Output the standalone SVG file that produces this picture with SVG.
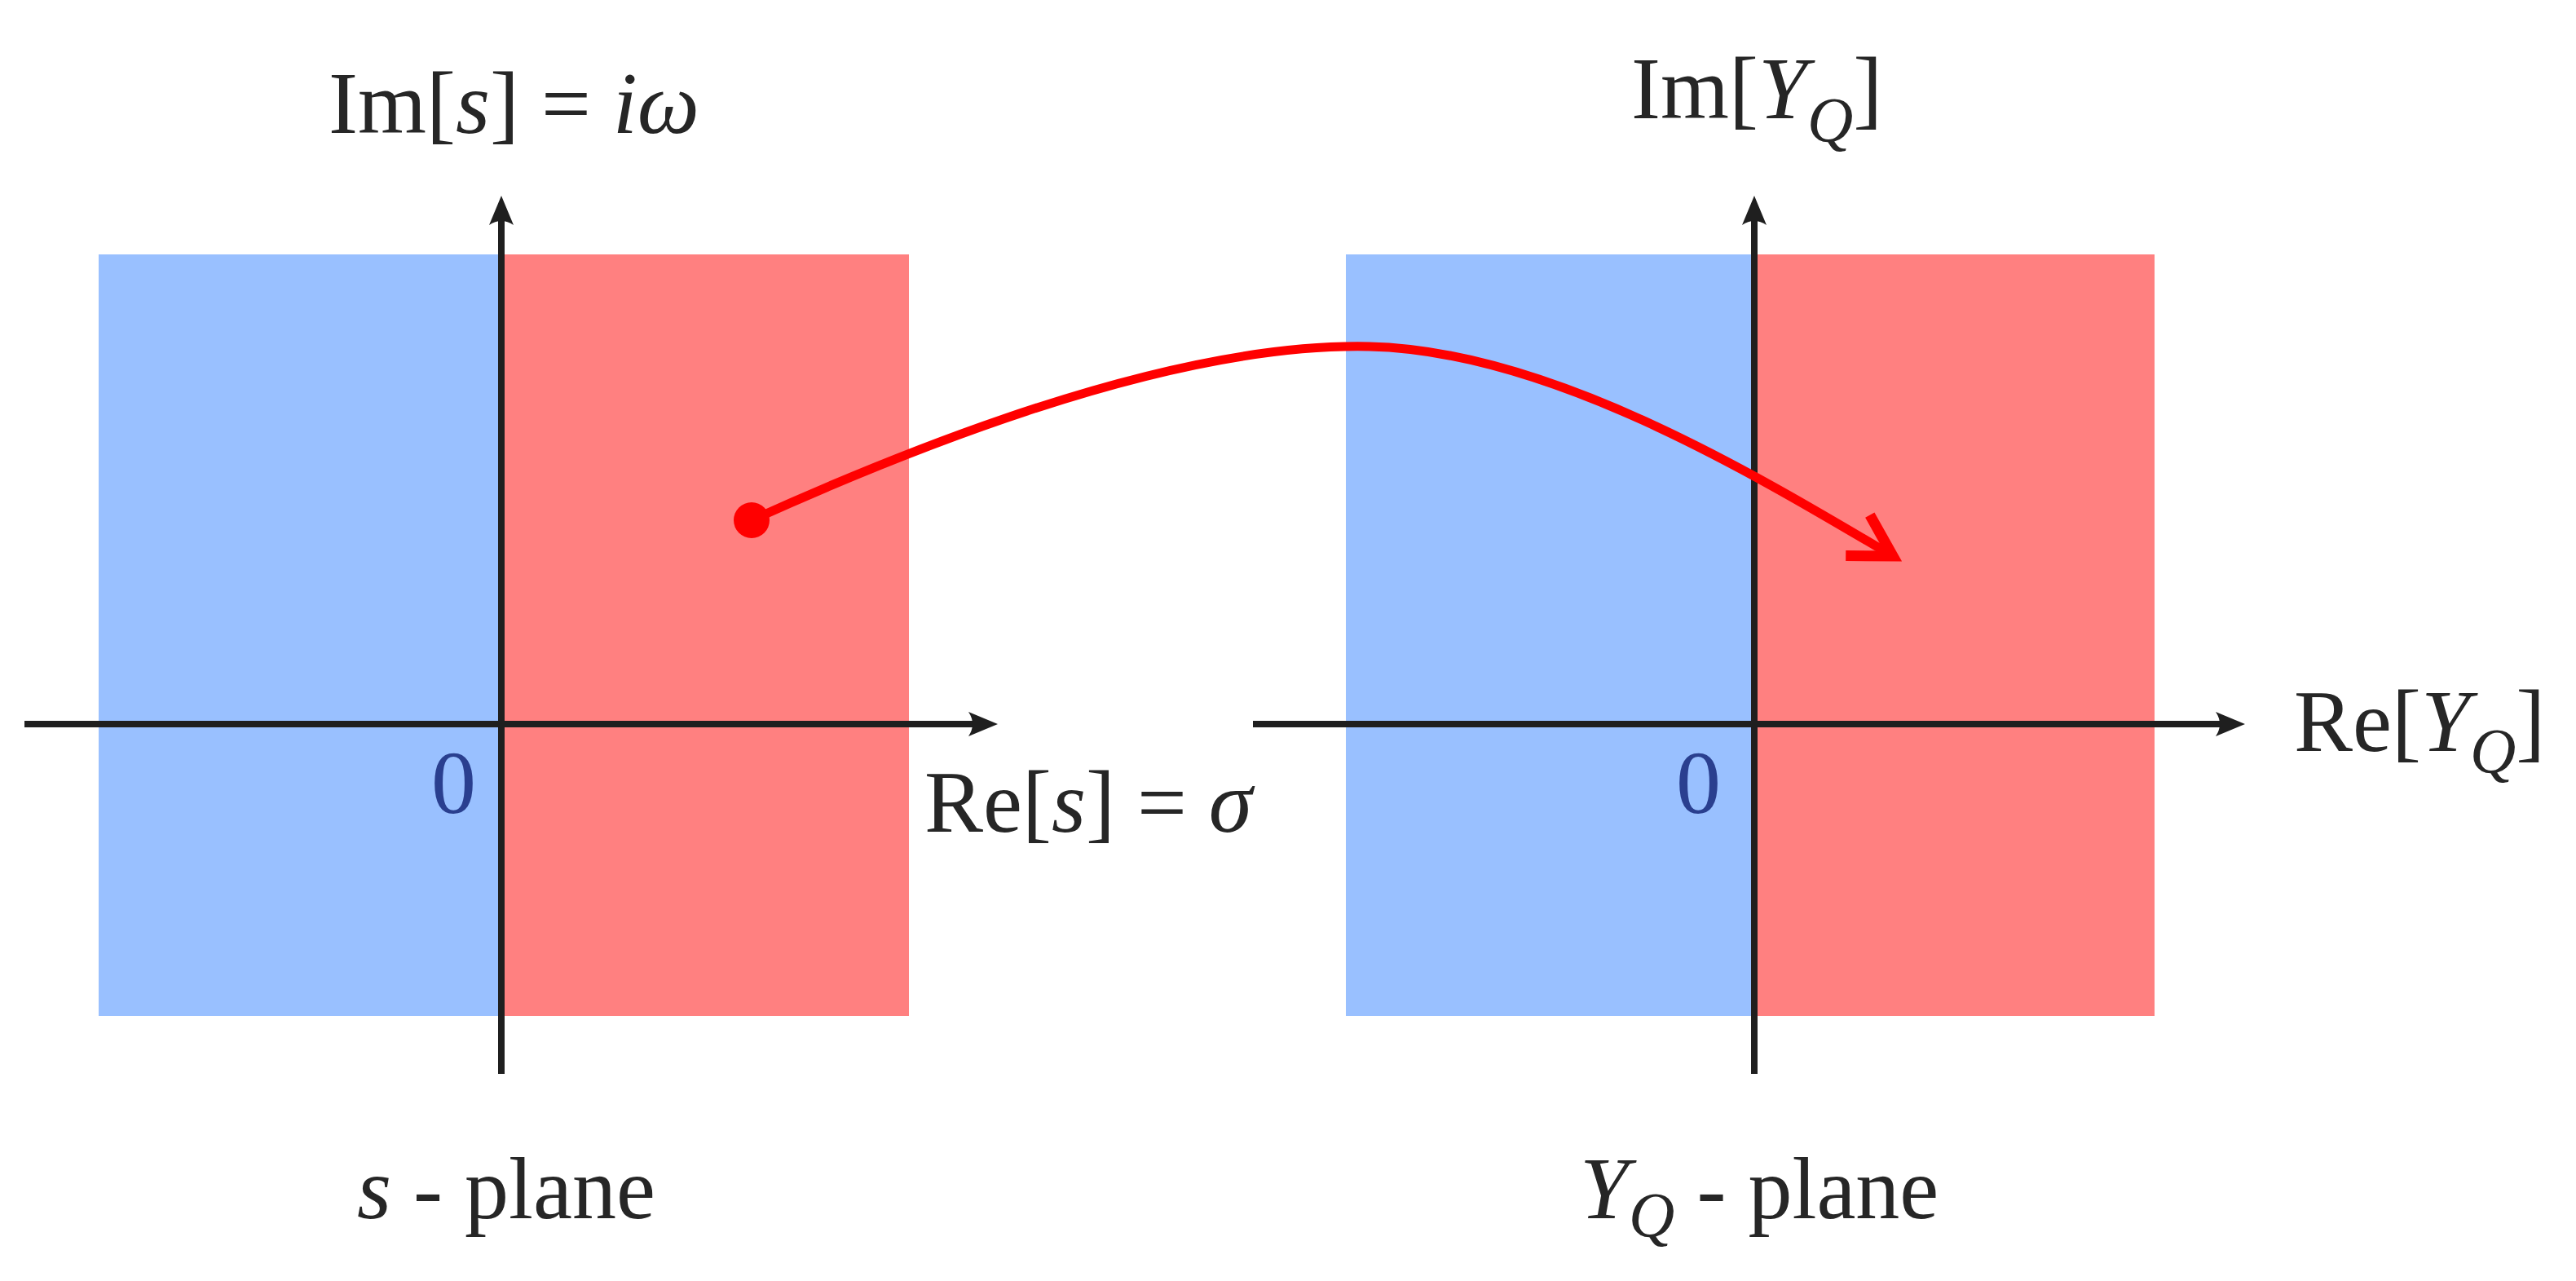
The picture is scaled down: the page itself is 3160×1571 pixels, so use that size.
<svg xmlns="http://www.w3.org/2000/svg" width="3160" height="1571" viewBox="0 0 3160 1571">
  <style>
    .lbl { font-family: "Liberation Serif", "Times New Roman", serif; font-size: 108px; fill: #262626; }
    .it { font-style: italic; }
    .sub { font-style: italic; font-size: 78px; }
    .zero { font-family: "Liberation Serif", "Times New Roman", serif; font-size: 110px; fill: #2a3f8f; }
    .blue { fill: #99C0FF; }
    .red { fill: #FF8080; }
    .axis { stroke: #1f1f1f; stroke-width: 8; fill: none; }
    .map { stroke: #FF0000; stroke-width: 11; fill: none; stroke-linecap: round; }
  </style>
  <defs>
    <marker id="axhead" markerUnits="userSpaceOnUse" viewBox="-30 -20 50 40" markerWidth="50" markerHeight="40" refX="0" refY="0" orient="auto">
      <path d="M14,0 L-22,-15 Q-12,0 -22,15 Z" fill="#1f1f1f"/>
    </marker>
    <marker id="maphead" markerUnits="userSpaceOnUse" viewBox="-70 -45 90 90" markerWidth="90" markerHeight="90" refX="0" refY="0" orient="auto">
      <path d="M-50,-29 L0,0 L-50,29" fill="none" stroke="#FF0000" stroke-width="13" stroke-linejoin="miter"/>
    </marker>
  </defs>

  <g id="s-plane">
    <rect class="blue" x="121" y="312" width="494" height="934"/>
    <rect class="red" x="615" y="312" width="500" height="934"/>
  </g>

  <g id="yq-plane">
    <rect class="blue" x="1651" y="312" width="501" height="934"/>
    <rect class="red" x="2152" y="312" width="491" height="934"/>
  </g>

  <g id="connectors">
    <line class="axis" x1="615" y1="1317" x2="615" y2="254" marker-end="url(#axhead)"/>
    <line class="axis" x1="30" y1="888" x2="1210" y2="888" marker-end="url(#axhead)"/>
    <line class="axis" x1="2152" y1="1317" x2="2152" y2="254" marker-end="url(#axhead)"/>
    <line class="axis" x1="1537" y1="888" x2="2740" y2="888" marker-end="url(#axhead)"/>
    <path id="mapping" class="map" d="M922,638 C1150,535 1450,420 1680,425 C1900,430 2150,580 2322,682" marker-end="url(#maphead)"/>
    <circle cx="922" cy="638" r="22" fill="#FF0000"/>
  </g>

  <g id="labels">
    <text class="lbl" x="403" y="163">Im[<tspan class="it">s</tspan>] = <tspan class="it">iω</tspan></text>
    <text class="lbl" x="2001" y="145">Im[<tspan class="it">Y</tspan><tspan class="sub" dy="28">Q</tspan><tspan dy="-28">]</tspan></text>
    <text class="zero" x="529" y="997">0</text>
    <text class="zero" x="2056" y="997">0</text>
    <text class="lbl" x="1134" y="1020">Re[<tspan class="it">s</tspan>] = <tspan class="it">σ</tspan></text>
    <text class="lbl" x="2814" y="921">Re[<tspan class="it">Y</tspan><tspan class="sub" dy="26">Q</tspan><tspan dy="-26">]</tspan></text>
    <text class="lbl" x="438" y="1494"><tspan class="it">s</tspan> - plane</text>
    <text class="lbl" x="1938" y="1494"><tspan class="it">Y</tspan><tspan class="sub" dy="22">Q</tspan><tspan dy="-22"> - plane</tspan></text>
  </g>
</svg>
